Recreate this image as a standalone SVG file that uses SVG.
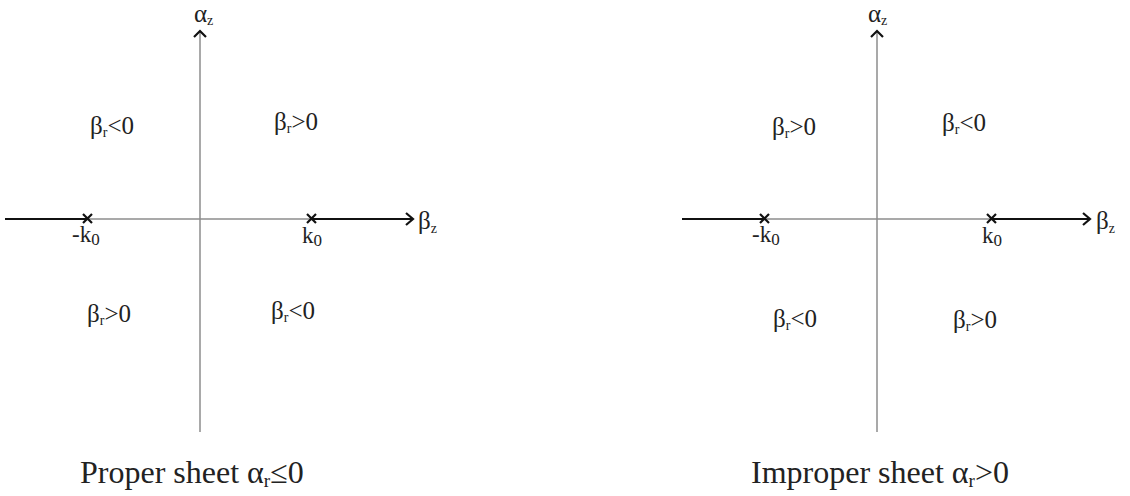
<svg xmlns="http://www.w3.org/2000/svg" width="1130" height="496" viewBox="0 0 1130 496">
<style>
.ax{stroke:#8c8c8c;stroke-width:1.5;fill:none}
.th{stroke:#111;stroke-width:2;fill:none}
.ar{stroke:#111;stroke-width:2.2;fill:none;stroke-linejoin:miter}
.cr{stroke:#111;stroke-width:2.2}
text{font-family:"Liberation Serif","Times New Roman",serif;fill:#222}
.lb{font-size:25px}
.kl{font-size:23px}
.cap{font-size:32px}
.sb{font-size:14px}
.ks{font-size:17px}
</style>
<rect width="1130" height="496" fill="#fff"/>
<g id="proper">
  <g id="proper-axes">
    <line class="ax" x1="200" y1="32" x2="200" y2="432"/>
    <polyline class="ar" points="194,37 200,31 206,37"/>
    <line class="ax" x1="88" y1="219" x2="312" y2="219"/>
    <line class="th" x1="5" y1="219" x2="88" y2="219"/>
    <line class="th" x1="312" y1="219" x2="412" y2="219"/>
    <polyline class="ar" points="406,213 413,219 406,225"/>
    <path class="cr" d="M83,214 L92,223 M92,214 L83,223"/>
    <path class="cr" d="M307,214 L316,223 M316,214 L307,223"/>
  </g>
  <text class="lb" x="194" y="22">α<tspan class="sb" dy="3">z</tspan></text>
  <text class="lb" x="418" y="229">β<tspan class="sb" dy="4">z</tspan></text>
  <text class="kl" x="72" y="242">-k<tspan class="ks" dy="3">0</tspan></text>
  <text class="kl" x="302" y="243">k<tspan class="ks" dy="3">0</tspan></text>
  <text class="lb" x="90" y="134">β<tspan class="sb" dy="3">r</tspan><tspan dy="-3">&lt;0</tspan></text>
  <text class="lb" x="274" y="130">β<tspan class="sb" dy="3">r</tspan><tspan dy="-3">&gt;0</tspan></text>
  <text class="lb" x="87" y="322">β<tspan class="sb" dy="3">r</tspan><tspan dy="-3">&gt;0</tspan></text>
  <text class="lb" x="271" y="319">β<tspan class="sb" dy="3">r</tspan><tspan dy="-3">&lt;0</tspan></text>
  <text class="cap" x="80" y="483">Proper sheet α<tspan font-size="19px" dy="4">r</tspan><tspan dy="-4">≤0</tspan></text>
</g>
<g id="improper">
  <g id="improper-axes">
    <line class="ax" x1="877" y1="32" x2="877" y2="432"/>
    <polyline class="ar" points="871,37 877,31 883,37"/>
    <line class="ax" x1="764" y1="219" x2="991" y2="219"/>
    <line class="th" x1="682" y1="219" x2="764" y2="219"/>
    <line class="th" x1="991" y1="219" x2="1089" y2="219"/>
    <polyline class="ar" points="1083,213 1090,219 1083,225"/>
    <path class="cr" d="M760,214 L769,223 M769,214 L760,223"/>
    <path class="cr" d="M987,214 L996,223 M996,214 L987,223"/>
  </g>
  <text class="lb" x="868" y="22">α<tspan class="sb" dy="3">z</tspan></text>
  <text class="lb" x="1096" y="229">β<tspan class="sb" dy="4">z</tspan></text>
  <text class="kl" x="752" y="242">-k<tspan class="ks" dy="3">0</tspan></text>
  <text class="kl" x="982" y="243">k<tspan class="ks" dy="3">0</tspan></text>
  <text class="lb" x="772" y="135">β<tspan class="sb" dy="3">r</tspan><tspan dy="-3">&gt;0</tspan></text>
  <text class="lb" x="942" y="131">β<tspan class="sb" dy="3">r</tspan><tspan dy="-3">&lt;0</tspan></text>
  <text class="lb" x="773" y="327">β<tspan class="sb" dy="3">r</tspan><tspan dy="-3">&lt;0</tspan></text>
  <text class="lb" x="953" y="328">β<tspan class="sb" dy="3">r</tspan><tspan dy="-3">&gt;0</tspan></text>
  <text class="cap" x="751" y="483">Improper sheet α<tspan font-size="19px" dy="4">r</tspan><tspan dy="-4">&gt;0</tspan></text>
</g>
</svg>
